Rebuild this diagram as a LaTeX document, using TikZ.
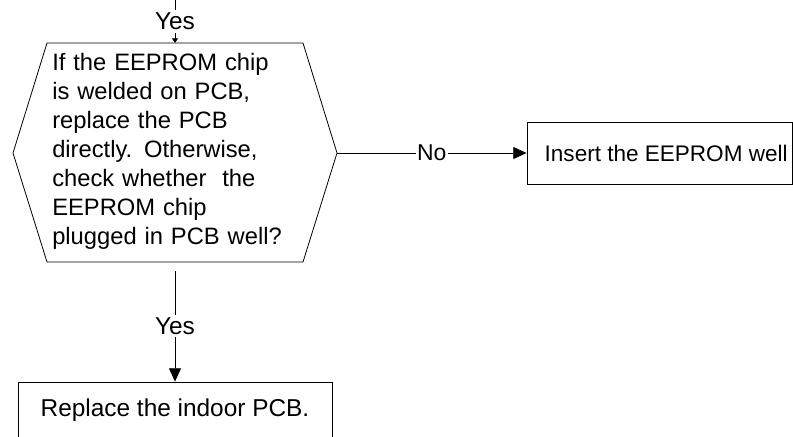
\documentclass[tikz,border=0pt]{standalone}
\usepackage{fontspec}
\setmainfont{Liberation Sans}
\usetikzlibrary{arrows.meta}
\begin{document}
\begin{tikzpicture}[x=0.75pt,y=-0.75pt,
  font=\fontsize{17.8pt}{21.8pt}\selectfont,
  conn/.style={draw, line width=0.6pt},
  bigtip/.style={-{Triangle[length=10pt,width=9pt]}},
  smalltip/.style={-{Triangle[length=3.5pt,width=4.5pt]}},
  lbl/.style={fill=white, inner xsep=1pt, inner ysep=2pt},
  box/.style={draw, line width=0.6pt, inner sep=0pt}]
\clip (0,0) rectangle (793,436);
\useasboundingbox (0,0) rectangle (793,436);
% decision hexagon
\coordinate (hT) at (175,43);
\coordinate (hB) at (175,262);
\coordinate (hR) at (337,153);
\coordinate (hL) at (13,153);
\draw[line width=0.6pt] (47,43) -- (303,43) -- (hR) -- (303,262) -- (47,262) -- (hL) -- cycle;
\node[anchor=west, text width=210pt, align=left, inner sep=0pt] (dtext) at (52,151.5)
  {If the EEPROM chip\\is welded on PCB,\\replace the PCB\\directly. Otherwise,\\check whether\ \ the\\EEPROM chip\\plugged in PCB well?};
% incoming connector
\coordinate (topin) at (175,0);
\draw[conn, smalltip] (topin) -- node[lbl, font=\fontsize{18.3pt}{22pt}\selectfont]{Yes} (hT);
% right box
\node[box, minimum width=198.75pt, minimum height=46.5pt,
      font=\fontsize{16.9pt}{20pt}\selectfont] (insert) at (659.5,153)
  {\hspace*{10pt}Insert the EEPROM well};
\draw[conn, bigtip] (hR) -- node[lbl, font=\fontsize{17.2pt}{20pt}\selectfont]{No} (insert.west);
% bottom box
\coordinate (bstart) at (175,271);
\node[box, minimum width=235.5pt, minimum height=42pt, font=\fontsize{18.3pt}{22pt}\selectfont] (repl) at (175,410) {Replace the indoor PCB.};
\draw[conn, bigtip] (bstart) -- node[lbl, font=\fontsize{18.3pt}{22pt}\selectfont]{Yes} (repl.north);
\end{tikzpicture}
\end{document}
